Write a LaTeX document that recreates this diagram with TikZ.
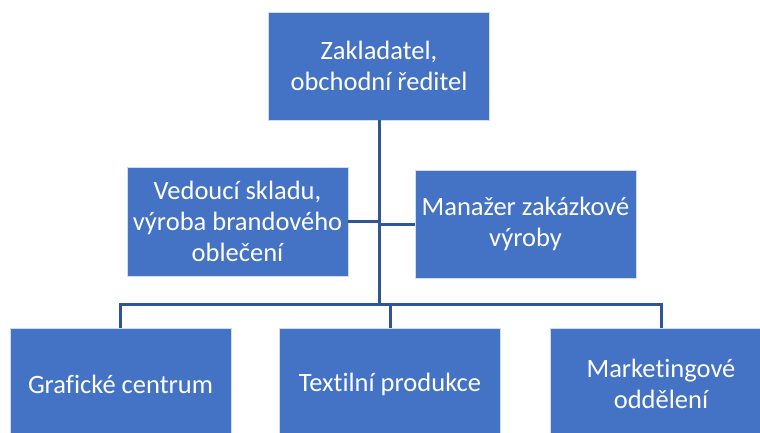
\documentclass[tikz,border=0pt]{standalone}
\usepackage{fontspec}
\setmainfont[RawFeature={-liga}]{Carlito}
\definecolor{boxblue}{HTML}{4472C4}
\definecolor{linkblue}{HTML}{2F5597}
\begin{document}
\begin{tikzpicture}[x=1pt,y=-1pt,
  unit/.style={rectangle, fill=boxblue, draw=white!75!boxblue, line width=0.8pt,
    minimum width=221pt, minimum height=108pt, text=white, align=center,
    inner sep=2pt, font=\fontsize{26.5}{31}\selectfont},
  link/.style={draw=linkblue, line width=3pt}]
\useasboundingbox (0,0) rectangle (760,432);
\clip (0,0) rectangle (760,432);

% head of the company
\node[unit] (head) at (379,66) {Zakladatel,\\obchodní ředitel};

% assistant positions beside the trunk
\node[unit, minimum height=109pt] (asstL) at (237.5,221.5) {Vedoucí skladu,\\výroba brandového\\oblečení};
\node[unit] (asstR) at (525.5,224) {Manažer zakázkové\\výroby};

% departments
\node[unit, minimum height=112pt] (deptA) at (120.5,384) {Grafické centrum};
\node[unit, minimum height=112pt] (deptB) at (390,384) {Textilní produkce};
\node[unit, minimum height=112pt] (deptC) at (661,384) {Marketingové\\oddělení};

% connectors
\coordinate (bar) at (379,304);
\draw[link] (head.south) -- (bar);
\draw[link] (asstL.east) -- (asstL.east -| head.south);
\draw[link] (asstR.west) -- (asstR.west -| head.south);
\draw[link] (deptA.north) |- (bar) -| (deptC.north);
\draw[link] (deptB.north) |- (bar);
\end{tikzpicture}
\end{document}
